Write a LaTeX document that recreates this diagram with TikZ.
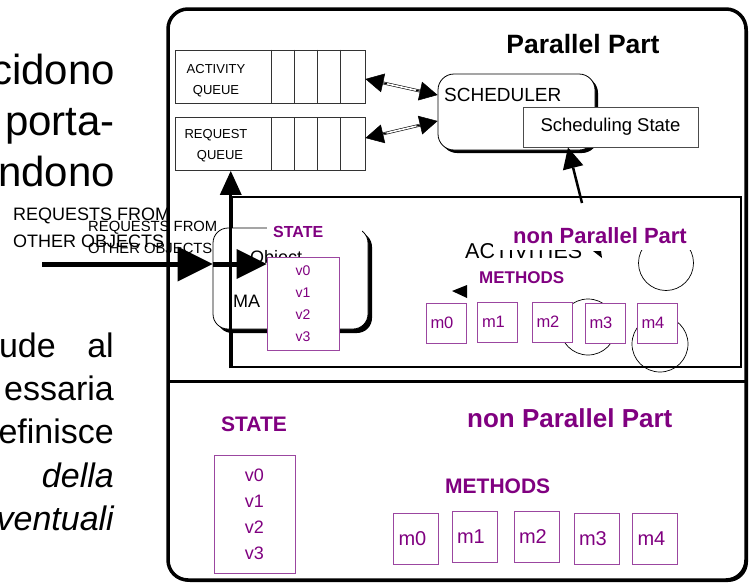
\documentclass[tikz,border=0pt]{standalone}
\usepackage{fontspec}
\setmainfont{Liberation Sans}
\usetikzlibrary{arrows.meta,shadows,calc}
\definecolor{methpurple}{RGB}{128,0,128}
\definecolor{boxpurple}{RGB}{155,70,160}
\newcommand{\fsz}[2]{\fontsize{#1}{#2}\selectfont}

\begin{document}
\begin{tikzpicture}[x=1pt,y=-1pt,
    slidetext/.style={font=\fsz{42}{50}, anchor=base east, inner sep=0pt},
    bodytext/.style={font=\fsz{34}{40}, anchor=base east, inner sep=0pt},
    plain/.style={anchor=base west, inner sep=0pt},
    purplebold/.style={font=\bfseries\fsz{#1}{#1}, text=methpurple, anchor=base west, inner sep=0pt},
    frame/.style={draw, line width=3.5pt, rounded corners=20pt, fill=white,
        drop shadow={shadow xshift=2pt, shadow yshift=-2pt, fill=black, opacity=1}},
    queue/.style={draw=black!80, line width=0.9pt, minimum width=190pt, minimum height=53pt, inner sep=0pt},
    cell/.style={draw=black!80, line width=0.9pt},
    qtext/.style={font=\fsz{13}{21}, align=center, inner sep=0pt},
    roundbox/.style={draw, line width=0.8pt, rounded corners=16pt, fill=white, inner sep=0pt,
        drop shadow={shadow xshift=#1, shadow yshift=-#1, fill=black, opacity=1}},
    pbox/.style={draw=boxpurple, line width=0.9pt, fill=white, text=methpurple, align=center, inner sep=0pt},
    mbox/.style={draw=boxpurple, line width=0.9pt, fill=white, text=methpurple, align=left},
    ring/.style={draw, line width=0.7pt},
    dblline/.style={double, double distance=1.6pt, line width=0.6pt, shorten <=10pt, shorten >=10pt},
    dbltip/.style={line width=1pt, -{Triangle[length=18pt,width=19pt,fill=black,line width=0.5pt]}},
    fatarrow/.style={line width=5pt, -{Triangle[length=#1,width=#1,line width=0pt]}},
    uparrow/.style={line width=3pt, -{Triangle[length=24pt,width=22pt,line width=0pt]}},
    thinarrow/.style={line width=2.5pt, -{Triangle[length=21pt,width=21pt,line width=0pt]}}
]
\useasboundingbox (0,0) rectangle (756,584);

% text of the slide, cut off at the left
\node[slidetext] (t1) at (115,84) {cidono};
\node[slidetext] (t2) at (115,135) {porta-};
\node[slidetext] (t3) at (115,186) {ndono};
\node[bodytext] (t4a) at (56,357) {ude};
\node[bodytext] (t4b) at (114,357) {al};
\node[bodytext] (t5) at (114,400) {essaria};
\node[bodytext] (t6) at (114,443) {efinisce};
\node[bodytext, font=\fsz{34}{40}\itshape] (t7) at (114,487) {della};
\node[bodytext, font=\fsz{34}{40}\itshape] (t8) at (114,530) {ventuali};

% object frame
\node[frame, minimum width=578pt, minimum height=571pt] (outer) at (457,294.5) {};
\coordinate (divl) at (168,381);
\coordinate (divr) at (746,381);
\draw[line width=3pt] (divl) -- (divr);

% queues
\node[queue] (aq) at (270,76.5) {};
\node[queue] (rq) at (270,144) {};
\foreach \q in {aq,rq}
    \foreach \dx in {97,120,143,166}
        \draw[cell] ([xshift=\dx pt]\q.north west) -- ([xshift=\dx pt]\q.south west);
\node[qtext] (aqtext) at (216,81) {ACTIVITY\\QUEUE};
\node[qtext] (rqtext) at (216,146) {REQUEST\\\hspace*{8pt}QUEUE};

% scheduler
\node[roundbox=3pt, minimum width=157pt, minimum height=76pt] (sched) at (516.5,112) {};
\node[plain, font=\fsz{19}{22}] (schedtxt) at (444,101) {SCHEDULER};
\node[draw=black!70, line width=0.8pt, fill=white, font=\fsz{18.5}{22},
    minimum width=175pt, minimum height=40pt, inner sep=0pt] (schedstate) at (610.5,127) {Scheduling State};
\coordinate (aqout) at ([yshift=-2.5pt]aq.east);
\coordinate (rqout) at ([yshift=6pt]rq.east);
\coordinate (schin1) at ([yshift=17pt]sched.west);
\coordinate (schin2) at ([yshift=-9pt]sched.west);
\foreach \a/\b in {aqout/schin1, rqout/schin2} {
    \draw[dblline] (\a) -- (\b);
    \draw[dbltip] ($(\a)!0.7!(\b)$) -- (\b);
    \draw[dbltip] ($(\a)!0.3!(\b)$) -- (\a);
}

\node[font=\bfseries\fsz{26.5}{30}, anchor=base, inner sep=0pt] (partitle) at (583,53) {Parallel Part};

% active object inside the frame
\node[draw, line width=2.5pt, minimum width=509pt, minimum height=170pt, inner sep=0pt] (inner) at (486.5,282) {};
\coordinate (actout) at (582,203);
\draw[thinarrow] (actout) -- ([xshift=-42.5pt]schedstate.south);

\node[roundbox=4pt, rounded corners=15pt, minimum width=155pt, minimum height=101pt] (obj) at (290.5,278.5) {};
\node[plain, font=\fsz{18}{22}] (objtxt) at (250,263) {Object};
\node[plain, font=\fsz{18}{22}] (matxt) at (233,307) {MA};
\draw[uparrow] (inner.south west) -- (inner.south west |- rq.south);

\node[plain, font=\fsz{18}{22}] (reqa1) at (13,220) {REQUESTS FROM};
\node[plain, font=\fsz{18}{22}] (reqa2) at (13,247) {OTHER OBJECTS};
\node[plain, font=\fsz{14.8}{18}] (reqb1) at (88,231) {REQUESTS FROM};
\node[plain, font=\fsz{14.8}{18}] (reqb2) at (88,253) {OTHER OBJECTS};

\node[purplebold=16, fill=white, inner xsep=6pt, inner ysep=3pt, text width=83pt, align=left] (objlabel) at (267,237) {STATE};
\node[pbox, font=\fsz{14}{22}, minimum width=72pt, minimum height=93pt] (objstate) at (303,303.5) {v0\\v1\\v2\\v3};

\coordinate (reqsrc) at (42,264);
\draw[fatarrow=35pt] (reqsrc) -- (obj.west |- reqsrc);
\draw[fatarrow=30pt] (obj.west |- reqsrc) -- (objstate.west |- reqsrc);

% activities and methods of the active object
\node[plain, font=\fsz{21.5}{24}] (acttxt) at (465,258) {ACTIVITIES};
\fill (593,251) -- (601,251) -- (602,258) -- cycle;
\draw[ring] (666,263) circle (27.5);
\node[purplebold=22, fill=white, inner xsep=20pt, inner ysep=7pt] (nppa) at (493,243) {non Parallel Part};
\node[purplebold=17] (metha) at (479,283) {METHODS};
\fill (452,291) -- (467,285) -- (467,298) -- cycle;
\draw[ring] (588,327) circle (28);
\draw[ring] (660,344) circle (28);
\foreach \n/\cx/\cy in {0/446/323, 1/497.5/322, 2/552/322, 3/605/323, 4/657/323}
    \node[mbox, font=\fsz{16.5}{20}, text width=31pt, inner xsep=4.5pt, inner ysep=0pt, minimum height=40pt] (ma\n) at (\cx,\cy) {m\n};

% non parallel part
\node[purplebold=26] (nppb) at (467,427) {non Parallel Part};
\node[purplebold=21] (stateb) at (221,431) {STATE};
\node[pbox, font=\fsz{18}{26}, minimum width=81pt, minimum height=118pt] (stbox) at (254.5,514) {v0\\v1\\v2\\v3};
\node[purplebold=21] (methb) at (445,493) {METHODS};
\foreach \n/\cx/\cy in {0/416/538.5, 1/474.5/537, 2/536.5/537, 3/596.5/538.5, 4/655/538.5}
    \node[mbox, font=\fsz{20}{24}, text width=35pt, inner xsep=5pt, inner ysep=0pt, minimum height=51pt] (mb\n) at (\cx,\cy) {m\n};
\end{tikzpicture}
\end{document}
